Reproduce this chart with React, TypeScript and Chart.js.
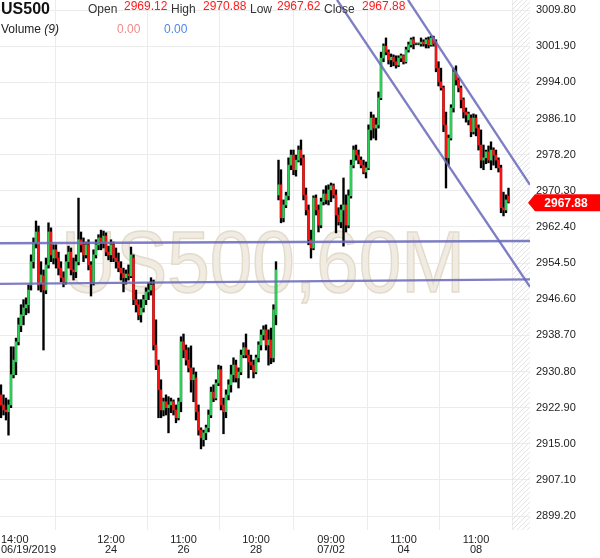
import React, { useEffect, useRef } from "react";
import { Chart, registerables } from "chart.js";

Chart.register(...registerables);

const FONT = "'Liberation Sans', Arial, Helvetica, sans-serif";

const symbol = "US500";
const timeframe = "60M";
const volumeLabel = "Volume";
const volumePeriod = "(9)";
const volumeValues = [0.0, 0.0];
const lastQuote = { open: 2969.12, high: 2970.88, low: 2967.62, close: 2967.88 };

const opens = [
  2925.7, 2923.5, 2922.4, 2922.0, 2923.5, 2930.1, 2932.9, 2937.3, 2940.8, 2943.0,
  2944.7, 2945.4, 2949.7, 2954.8, 2958.9, 2961.3, 2950.2, 2951.7, 2948.6, 2954.1,
  2961.3, 2955.6, 2957.4, 2955.6, 2953.4, 2951.3, 2950.4, 2954.8, 2956.9, 2953.0,
  2952.6, 2954.8, 2959.6, 2958.5, 2956.3, 2958.5, 2954.1, 2950.4, 2956.3, 2958.5,
  2960.0, 2959.1, 2960.4, 2956.9, 2956.3, 2958.5, 2955.6, 2954.8, 2953.4, 2952.3,
  2951.3, 2952.1, 2951.7, 2955.6, 2946.5, 2945.4, 2943.2, 2944.7, 2946.5, 2948.2,
  2948.6, 2949.7, 2936.6, 2932.2, 2926.8, 2922.4, 2924.2, 2922.9, 2923.5, 2924.2,
  2922.4, 2920.7, 2924.2, 2937.3, 2935.5, 2933.3, 2931.6, 2929.0, 2929.4, 2922.0,
  2918.0, 2915.9, 2917.4, 2918.5, 2921.3, 2926.3, 2925.0, 2928.3, 2931.2, 2923.5,
  2922.0, 2925.7, 2927.9, 2930.1, 2932.2, 2929.4, 2930.7, 2934.4, 2936.0, 2934.4,
  2932.9, 2932.2, 2930.7, 2933.8, 2936.6, 2938.8, 2939.9, 2936.6, 2937.7, 2933.8,
  2943.2, 2969.4, 2971.6, 2964.4, 2967.2, 2969.2, 2975.9, 2978.1, 2974.9, 2977.0,
  2979.2, 2977.5, 2969.4, 2966.1, 2959.6, 2957.8, 2968.7, 2966.1, 2962.8, 2967.9,
  2969.6, 2968.3, 2970.5, 2971.4, 2969.4, 2965.0, 2963.5, 2966.1, 2967.2, 2962.8,
  2969.2, 2975.9, 2979.2, 2978.1, 2977.0, 2975.9, 2974.4, 2975.3, 2983.6, 2986.2,
  2984.0, 2984.7, 2990.6, 2999.3, 3001.9, 3000.6, 2998.9, 2999.5, 2998.5, 2997.8,
  2999.3, 2999.8, 2998.5, 3001.1, 3002.2, 3003.3, 3002.4, 3002.4, 3002.4, 3002.8,
  3002.4, 3003.3, 3002.2, 3003.7, 3002.4, 2997.1, 2994.1, 2992.8, 2984.7, 2977.5,
  2981.8, 2988.4, 2996.3, 2994.5, 2992.8, 2990.2, 2987.5, 2985.8, 2986.2, 2983.2,
  2986.2, 2984.0, 2980.3, 2977.0, 2977.5, 2978.8, 2977.0, 2979.2, 2978.1, 2977.0,
  2975.3, 2966.6, 2966.1, 2969.12,
];

const highs = [
  2927.9, 2925.7, 2925.0, 2924.6, 2936.2, 2936.2, 2938.1, 2942.5, 2945.4, 2946.5,
  2946.9, 2949.7, 2956.3, 2960.0, 2963.7, 2962.6, 2954.8, 2953.0, 2955.6, 2963.3,
  2962.2, 2958.5, 2958.5, 2956.9, 2954.8, 2952.6, 2956.3, 2958.2, 2957.8, 2955.6,
  2956.3, 2968.7, 2961.3, 2960.0, 2959.1, 2959.6, 2954.8, 2957.4, 2959.6, 2960.7,
  2961.7, 2961.5, 2961.1, 2958.2, 2959.6, 2959.1, 2957.8, 2956.7, 2954.8, 2953.4,
  2953.0, 2954.1, 2958.0, 2956.3, 2948.6, 2946.5, 2946.5, 2947.5, 2949.1, 2950.2,
  2951.3, 2950.8, 2942.1, 2933.3, 2929.0, 2925.0, 2925.7, 2925.3, 2925.0, 2924.6,
  2923.5, 2925.0, 2938.4, 2939.0, 2936.6, 2936.0, 2936.4, 2931.6, 2930.7, 2923.5,
  2918.5, 2918.0, 2919.1, 2922.4, 2927.4, 2927.9, 2929.0, 2932.2, 2932.0, 2925.0,
  2926.8, 2929.0, 2932.2, 2933.8, 2933.3, 2931.6, 2935.5, 2937.1, 2939.0, 2935.5,
  2934.4, 2933.3, 2934.4, 2937.3, 2939.9, 2940.8, 2941.0, 2939.9, 2940.3, 2945.4,
  2954.8, 2977.0, 2974.9, 2968.3, 2970.0, 2977.5, 2979.2, 2979.2, 2978.1, 2980.1,
  2981.4, 2978.1, 2970.9, 2967.2, 2961.7, 2969.2, 2969.4, 2967.2, 2968.7, 2970.5,
  2971.4, 2971.6, 2972.0, 2971.8, 2970.5, 2966.6, 2967.2, 2973.1, 2969.4, 2970.5,
  2977.0, 2980.1, 2980.3, 2979.2, 2977.7, 2977.0, 2976.6, 2984.7, 2987.5, 2986.9,
  2986.2, 2991.9, 3000.6, 3002.4, 3003.7, 3001.1, 3000.2, 3000.0, 2999.8, 2999.8,
  3000.2, 3000.0, 3001.7, 3002.8, 3003.7, 3003.9, 3002.6, 3002.6, 3003.7, 3003.3,
  3003.7, 3003.9, 3004.1, 3004.1, 3003.3, 2998.5, 2997.1, 2993.2, 2987.5, 2982.5,
  2989.1, 2997.1, 2997.6, 2995.0, 2993.2, 2990.6, 2988.4, 2987.5, 2986.9, 2987.1,
  2986.9, 2984.7, 2983.6, 2980.3, 2979.2, 2980.1, 2981.0, 2979.7, 2979.2, 2977.5,
  2975.9, 2970.0, 2969.4, 2970.88,
];

const lows = [
  2920.7, 2921.3, 2920.2, 2916.9, 2922.9, 2929.4, 2930.1, 2936.6, 2939.5, 2941.0,
  2943.2, 2943.6, 2948.6, 2953.4, 2957.8, 2948.6, 2948.2, 2935.5, 2947.8, 2953.4,
  2954.8, 2954.3, 2953.4, 2951.9, 2950.4, 2949.3, 2949.9, 2953.4, 2951.9, 2950.8,
  2951.3, 2954.1, 2956.9, 2954.8, 2955.6, 2953.0, 2947.3, 2949.7, 2955.6, 2957.4,
  2957.4, 2957.8, 2956.1, 2955.2, 2954.8, 2954.8, 2953.4, 2952.6, 2950.8, 2948.2,
  2949.9, 2950.8, 2951.3, 2945.4, 2943.8, 2942.1, 2941.6, 2943.8, 2945.4, 2946.5,
  2947.5, 2935.5, 2931.2, 2920.7, 2920.7, 2921.1, 2921.3, 2917.4, 2921.8, 2921.3,
  2919.6, 2920.2, 2922.0, 2933.8, 2932.2, 2930.7, 2926.3, 2924.2, 2920.2, 2916.9,
  2913.9, 2914.5, 2915.9, 2917.6, 2920.7, 2924.2, 2924.6, 2927.7, 2922.4, 2917.2,
  2920.7, 2924.6, 2926.3, 2928.5, 2928.5, 2927.2, 2930.1, 2933.8, 2933.8, 2929.4,
  2931.2, 2929.4, 2930.3, 2932.9, 2935.5, 2937.7, 2935.5, 2932.2, 2932.5, 2932.9,
  2941.0, 2968.3, 2963.3, 2963.5, 2966.6, 2968.3, 2974.9, 2973.8, 2973.5, 2976.6,
  2975.9, 2968.3, 2965.0, 2958.5, 2955.6, 2957.4, 2965.0, 2961.3, 2962.2, 2967.2,
  2967.4, 2967.2, 2967.9, 2968.7, 2961.1, 2962.8, 2962.2, 2958.2, 2961.3, 2962.2,
  2968.7, 2975.3, 2977.0, 2976.2, 2975.3, 2974.0, 2973.1, 2974.9, 2981.4, 2981.8,
  2981.4, 2984.0, 2990.2, 2998.5, 3000.0, 2998.0, 2997.4, 2997.6, 2997.1, 2997.4,
  2998.5, 2998.0, 2998.2, 3000.6, 3001.7, 3001.3, 3002.2, 3002.2, 3001.9, 3001.9,
  3001.5, 3001.5, 3001.9, 3001.9, 2996.3, 2993.2, 2992.3, 2983.2, 2970.9, 2975.9,
  2981.4, 2987.5, 2993.4, 2991.9, 2988.4, 2986.2, 2985.3, 2984.7, 2982.1, 2982.7,
  2982.3, 2979.2, 2975.3, 2974.9, 2976.2, 2976.4, 2974.9, 2975.9, 2975.3, 2974.4,
  2965.5, 2964.8, 2965.5, 2967.62,
];

const closes = [
  2923.5, 2922.4, 2922.0, 2923.5, 2930.1, 2933.3, 2937.3, 2941.0, 2943.2, 2944.7,
  2945.4, 2948.6, 2954.8, 2958.9, 2961.3, 2949.7, 2951.9, 2948.6, 2954.1, 2961.3,
  2956.3, 2957.4, 2955.6, 2953.4, 2951.3, 2950.4, 2954.8, 2956.9, 2953.0, 2952.6,
  2954.8, 2959.6, 2958.5, 2956.3, 2958.5, 2954.1, 2950.4, 2956.3, 2958.5, 2960.0,
  2959.1, 2960.4, 2956.9, 2956.3, 2958.5, 2955.6, 2954.8, 2953.4, 2952.3, 2951.3,
  2952.1, 2951.7, 2956.3, 2946.5, 2945.4, 2943.2, 2944.7, 2946.5, 2948.2, 2948.6,
  2949.7, 2936.6, 2932.2, 2926.8, 2922.4, 2924.2, 2922.9, 2923.5, 2924.2, 2922.4,
  2920.7, 2924.2, 2937.3, 2935.5, 2933.3, 2931.6, 2929.0, 2930.1, 2922.0, 2918.0,
  2916.3, 2917.4, 2918.5, 2921.3, 2926.3, 2925.0, 2928.3, 2931.2, 2923.5, 2922.0,
  2925.7, 2927.9, 2930.1, 2932.2, 2929.4, 2930.7, 2934.4, 2936.0, 2934.4, 2932.9,
  2932.2, 2930.7, 2933.8, 2936.6, 2938.8, 2939.9, 2936.6, 2937.7, 2933.8, 2944.3,
  2953.0, 2971.6, 2964.4, 2967.2, 2969.2, 2975.9, 2978.1, 2974.9, 2977.0, 2979.2,
  2977.5, 2969.4, 2966.1, 2959.6, 2957.8, 2968.7, 2966.1, 2962.8, 2967.9, 2969.6,
  2968.3, 2970.5, 2971.4, 2969.4, 2965.0, 2963.5, 2966.1, 2967.2, 2962.8, 2969.2,
  2975.9, 2979.2, 2978.1, 2977.0, 2975.9, 2974.4, 2975.3, 2983.6, 2986.2, 2984.0,
  2984.7, 2990.6, 2999.3, 3001.9, 3000.6, 2998.9, 2999.5, 2998.5, 2997.8, 2999.3,
  2999.8, 2998.5, 3001.1, 3002.2, 3003.3, 3002.4, 3002.4, 3002.4, 3002.8, 3002.4,
  3003.3, 3002.2, 3003.7, 3002.4, 2997.1, 2994.1, 2992.8, 2984.7, 2977.5, 2981.8,
  2988.4, 2996.3, 2994.5, 2992.8, 2990.2, 2987.5, 2986.9, 2987.1, 2983.2, 2986.2,
  2984.0, 2980.3, 2977.0, 2977.5, 2978.8, 2977.0, 2979.2, 2978.1, 2977.0, 2975.3,
  2966.6, 2966.1, 2968.3, 2967.88,
];

// x axis: bar index positions of time labels
const xTickIndex = [0, 44, 73, 102, 132, 161, 190];
const xTickLabels = [
  ["14:00", "06/19/2019"],
  ["12:00", "24"],
  ["11:00", "26"],
  ["10:00", "28"],
  ["09:00", "07/02"],
  ["11:00", "04"],
  ["11:00", "08"],
];
const xRange = [-0.4, 211.6];

// y axis
const yTicks = [
  2899.2, 2907.1, 2915.0, 2922.9, 2930.8, 2938.7, 2946.6, 2954.5, 2962.4, 2970.3,
  2978.2, 2986.1, 2994.0, 3001.9, 3009.8,
];
const yRange = [2896.17, 3011.99];

// drawn trend lines: [fromIndex, fromPrice, toIndex, toPrice]
const horizontalLines = [
  [-0.4, 2958.84, 211.6, 2959.34],
  [-0.4, 2949.95, 211.6, 2950.93],
];
const channelLines = [
  [134.4, 3012.0, 211.6, 2949.3],
  [162.8, 3012.0, 211.6, 2971.6],
];

const GREEN = "#2bcf55";
const RED = "#ff1010";
const GRID = "#ececec";

export default function App() {
  const ref = useRef<HTMLCanvasElement>(null);

  useEffect(() => {
    const canvas = ref.current!;
    const bodies = opens.map((o, i) => ({ x: i, y: [o, closes[i]] }));
    const wicks = lows.map((l, i) => ({ x: i, y: [l, highs[i]] }));
    const bodyColors = opens.map((o, i) => (closes[i] < o ? RED : GREEN));

    const overlay = {
      id: "overlay",
      beforeDatasetsDraw(chart: any) {
        const { ctx, chartArea: a, scales } = chart;
        const xs = scales.x;
        // hatched future zone
        const hx = xs.getPixelForValue(opens.length + 0.4);
        ctx.save();
        ctx.beginPath();
        ctx.rect(hx, a.top, a.right - hx, a.bottom - a.top);
        ctx.clip();
        ctx.strokeStyle = "#e4e4e4";
        ctx.lineWidth = 1;
        const H = a.bottom - a.top;
        for (let k = -H; k < a.right - hx + 10; k += 5) {
          ctx.beginPath();
          ctx.moveTo(hx + k, a.bottom);
          ctx.lineTo(hx + k + H, a.top);
          ctx.stroke();
        }
        ctx.restore();

        // watermark
        ctx.save();
        const text = `${symbol},${timeframe}`;
        ctx.font = `88px ${FONT}`;
        const w = ctx.measureText(text).width;
        const sx = 404 / w;
        ctx.translate((a.left + a.right) / 2 - 2, (a.top + a.bottom) / 2 + 27);
        ctx.scale(sx, 1);
        ctx.textAlign = "center";
        ctx.textBaseline = "alphabetic";
        ctx.fillStyle = "#f0ece3";
        ctx.fillText(text, 0, 0);
        ctx.strokeStyle = "#e4dccb";
        ctx.lineWidth = 1.6;
        ctx.strokeText(text, 0, 0);
        ctx.restore();
      },
      afterDatasetsDraw(chart: any) {
        const { ctx, chartArea: a, scales } = chart;
        const xs = scales.x;
        const ys = scales.y;
        ctx.save();
        ctx.beginPath();
        ctx.rect(a.left, a.top, a.right - a.left, a.bottom - a.top);
        ctx.clip();
        ctx.strokeStyle = "rgba(108,108,188,0.88)";
        ctx.lineWidth = 2.4;
        [...horizontalLines, ...channelLines].forEach(([x1, y1, x2, y2]) => {
          ctx.beginPath();
          ctx.moveTo(xs.getPixelForValue(x1), ys.getPixelForValue(y1));
          ctx.lineTo(xs.getPixelForValue(x2), ys.getPixelForValue(y2));
          ctx.stroke();
        });
        ctx.restore();
      },
      afterDraw(chart: any) {
        const { ctx, chartArea: a, scales } = chart;
        const xs = scales.x;
        const ys = scales.y;
        ctx.save();
        // x tick labels
        ctx.font = `11px ${FONT}`;
        ctx.fillStyle = "#222";
        ctx.textBaseline = "alphabetic";
        xTickIndex.forEach((v, i) => {
          const px = xs.getPixelForValue(v);
          const lines = xTickLabels[i];
          const mw = Math.max(...lines.map((t) => ctx.measureText(t).width));
          const clamp = px - mw / 2 < 1;
          ctx.textAlign = clamp ? "left" : "center";
          lines.forEach((t, j) => {
            ctx.fillText(t, clamp ? 1 : px, a.bottom + 13 + j * 10);
          });
        });

        // price tag
        const py = ys.getPixelForValue(lastQuote.close) + 1;
        ctx.fillStyle = "#ff0000";
        ctx.beginPath();
        ctx.moveTo(a.right - 2, py);
        ctx.lineTo(a.right + 5, py - 8.5);
        ctx.lineTo(600, py - 8.5);
        ctx.lineTo(600, py + 8.5);
        ctx.lineTo(a.right + 5, py + 8.5);
        ctx.closePath();
        ctx.fill();
        ctx.fillStyle = "#fff";
        ctx.font = `bold 12px ${FONT}`;
        ctx.textAlign = "center";
        ctx.textBaseline = "middle";
        ctx.fillText(lastQuote.close.toFixed(2), 566, py + 0.5);

        // header
        ctx.textAlign = "left";
        ctx.textBaseline = "alphabetic";
        ctx.fillStyle = "#111";
        ctx.font = `bold 16px ${FONT}`;
        ctx.fillText(symbol, 1, 13.5);

        const fields: [string, number, number, number][] = [
          ["Open", lastQuote.open, 88, 124],
          ["High", lastQuote.high, 171, 203],
          ["Low", lastQuote.low, 250, 277],
          ["Close", lastQuote.close, 324, 362],
        ];
        fields.forEach(([lab, val, lx, vx]) => {
          ctx.font = `12px ${FONT}`;
          ctx.fillStyle = "#333";
          ctx.fillText(lab, lx, 13);
          ctx.fillStyle = "#ff1a1a";
          ctx.fillText(val.toFixed(2), vx, 9.5);
        });

        ctx.fillStyle = "#222";
        ctx.font = `12px ${FONT}`;
        ctx.fillText(volumeLabel + " ", 1, 33);
        const vw = ctx.measureText(volumeLabel + " ").width;
        ctx.font = `italic 12px ${FONT}`;
        ctx.fillText(volumePeriod, 1 + vw, 33);
        ctx.font = `12px ${FONT}`;
        ctx.fillStyle = "#f28b8b";
        ctx.fillText(volumeValues[0].toFixed(2), 117, 33);
        ctx.fillStyle = "#4f86e8";
        ctx.fillText(volumeValues[1].toFixed(2), 164, 33);
        ctx.restore();
      },
    };

    const chart = new Chart(canvas, {
      type: "bar",
      data: {
        datasets: [
          {
            data: bodies as any,
            backgroundColor: bodyColors,
            barThickness: 1.7,
            grouped: false,
            borderWidth: 0,
          } as any,
          {
            data: wicks as any,
            backgroundColor: "#000",
            barThickness: 1.7,
            grouped: false,
            borderWidth: 0,
          } as any,
        ],
      },
      options: {
        responsive: false,
        maintainAspectRatio: false,
        devicePixelRatio: 1,
        animation: false,
        events: [],
        layout: { padding: 0 },
        plugins: { legend: { display: false }, tooltip: { enabled: false } },
        scales: {
          x: {
            type: "linear",
            min: xRange[0],
            max: xRange[1],
            offset: false,
            afterBuildTicks: (s: any) => {
              s.ticks = xTickIndex.map((v) => ({ value: v }));
            },
            afterFit: (s: any) => {
              s.height = 28;
              s.paddingLeft = 0;
              s.paddingRight = 0;
            },
            grid: {
              color: (c: any) => (c.index === 0 ? "rgba(0,0,0,0)" : GRID),
              drawTicks: false,
            },
            border: { display: false },
            ticks: { display: false },
          },
          y: {
            position: "right",
            min: yRange[0],
            max: yRange[1],
            afterBuildTicks: (s: any) => {
              s.ticks = yTicks.map((v) => ({ value: v }));
            },
            afterFit: (s: any) => {
              s.width = 70;
              s.paddingTop = 0;
              s.paddingBottom = 0;
            },
            grid: { color: GRID, drawTicks: false },
            border: { display: false },
            ticks: {
              padding: 6,
              autoSkip: false,
              color: "#222",
              font: { family: FONT, size: 11 },
              callback: (v: any) => Number(v).toFixed(2),
            },
          },
        },
      } as any,
      plugins: [overlay],
    });
    return () => chart.destroy();
  }, []);

  return (
    <div style={{ position: "fixed", left: 0, top: 0, width: 600, height: 558, background: "#fff" }}>
      <canvas ref={ref} width={600} height={558} style={{ display: "block", width: 600, height: 558 }} />
    </div>
  );
}
